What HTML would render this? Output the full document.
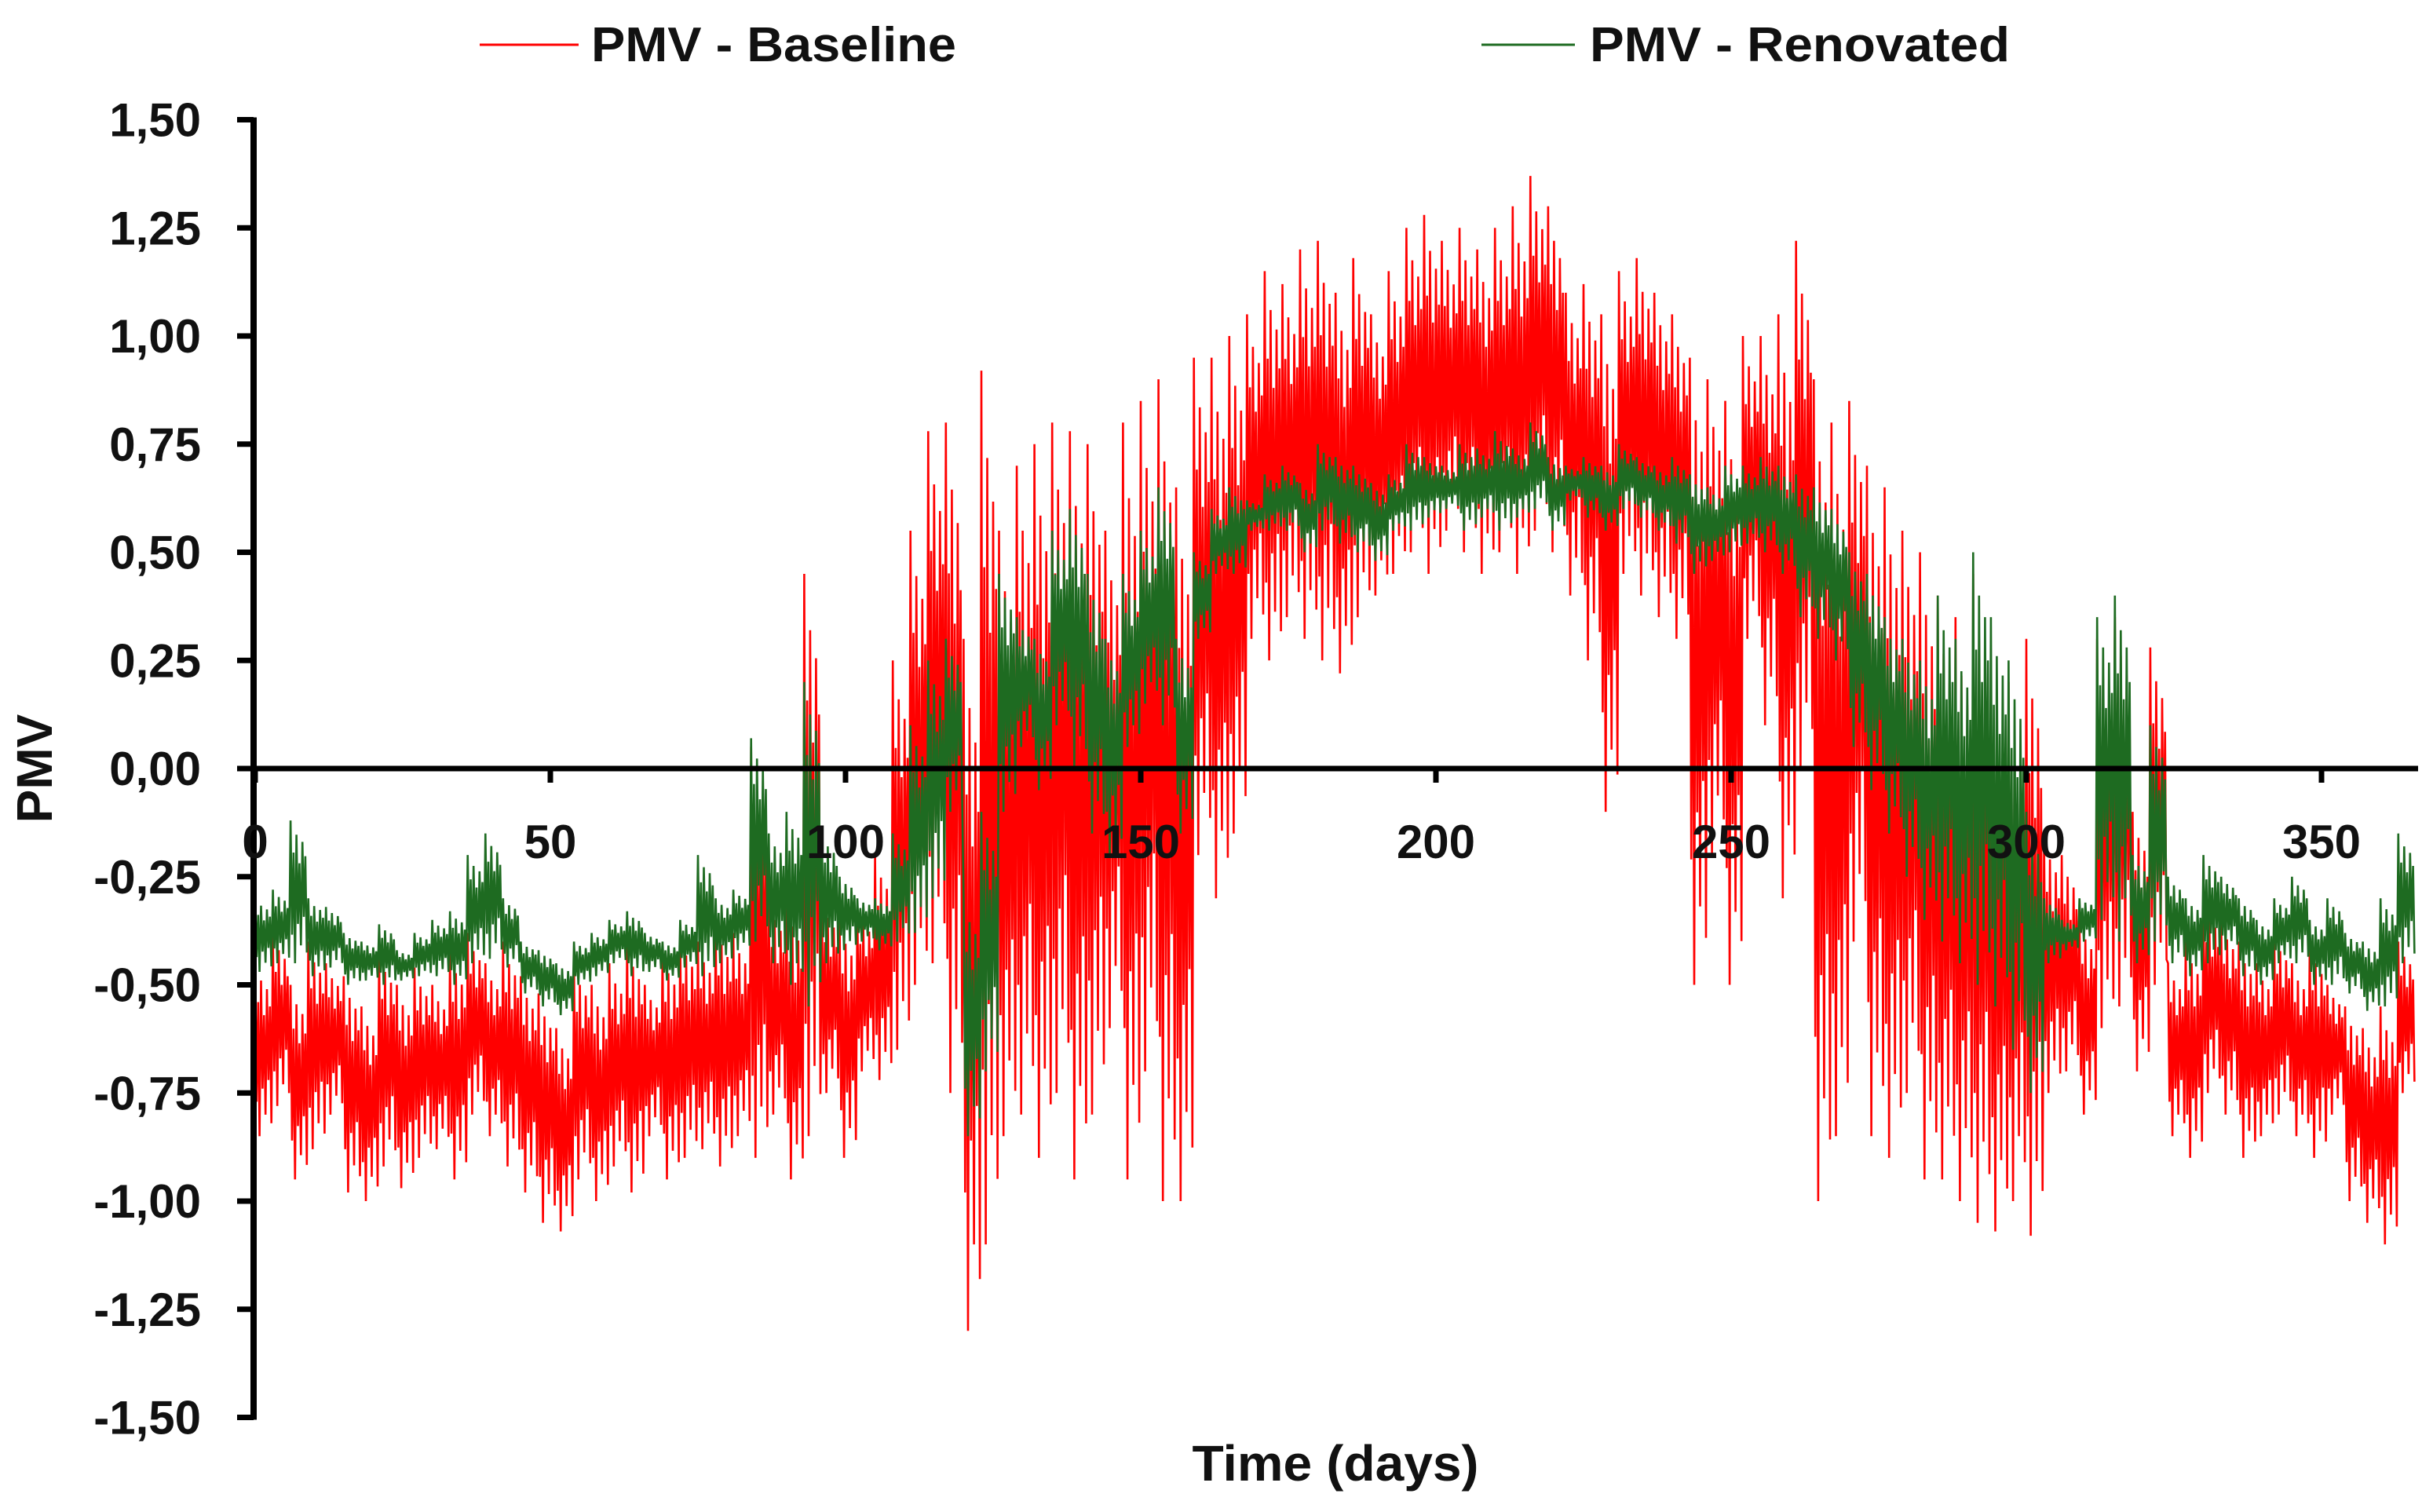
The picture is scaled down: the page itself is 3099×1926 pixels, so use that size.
<!DOCTYPE html>
<html><head><meta charset="utf-8"><style>
html,body{margin:0;padding:0;background:#fff;}
svg{display:block;font-family:"Liberation Sans",Arial,sans-serif;font-weight:bold;}
</style></head><body>
<svg id="chart" width="3099" height="1926" viewBox="0 0 3099 1926" xmlns="http://www.w3.org/2000/svg">
<g id="legend">
  <g>
    <line x1="611" y1="57" x2="737" y2="57" stroke="#ff0000" stroke-width="3"/>
    <text x="753" y="78" font-size="62" fill="#111" textLength="465" lengthAdjust="spacingAndGlyphs">PMV - Baseline</text>
  </g>
  <g>
    <line x1="1887" y1="57" x2="2006" y2="57" stroke="#1e6b21" stroke-width="3"/>
    <text x="2025" y="78" font-size="62" fill="#111" textLength="535" lengthAdjust="spacingAndGlyphs">PMV - Renovated</text>
  </g>
</g>
<g id="series"></g>
<g id="axes"></g>
<text transform="translate(66,979) rotate(-90)" text-anchor="middle" font-size="64" fill="#111">PMV</text>
<text x="1701" y="1886" text-anchor="middle" font-size="64" fill="#111" textLength="365" lengthAdjust="spacingAndGlyphs">Time (days)</text>
</svg>
<script>
const binDays = 3;
const yTicks = [1.5,1.25,1,0.75,0.5,0.25,0,-0.25,-0.5,-0.75,-1,-1.25,-1.5];
const yTickLabels = ["1,50","1,25","1,00","0,75","0,50","0,25","0,00","-0,25","-0,50","-0,75","-1,00","-1,25","-1,50"];
const xTicks = [0,50,100,150,200,250,300,350];
const redHi = [-0.45,-0.38,-0.50,-0.40,-0.45, -0.48,-0.55,-0.42,-0.50,-0.46, -0.50,-0.42,-0.38,-0.45,-0.40, -0.48,-0.52,-0.60,-0.45,-0.50, -0.45,-0.40,-0.50,-0.42,-0.38, -0.40,-0.35,-0.38,0.05,-0.30, -0.30,0.45,-0.30,-0.35,-0.32, -0.20,0.25,0.55,0.78,0.80, 0.30,0.92,0.55,0.70,0.75, 0.80,0.78,0.75,0.55,0.80, 0.85,0.90,0.65,0.95,0.95, 1.0,1.05,1.15,1.12,1.20, 1.22,1.10,1.18,1.05,1.15, 1.25,1.28,1.22,1.25,1.20, 1.25,1.30,1.37,1.30,1.10, 1.12,1.05,1.15,1.18,1.10, 1.05,0.95,0.90,0.85,1.00, 1.00,1.05,1.22,0.90,0.80, 0.85,0.70,0.65,0.55,0.50, 0.40,0.35,0.45,0.25,0.20, 0.30,-0.15,-0.20,-0.35,0.30, 0.35,-0.10,0.28,-0.45,-0.40, -0.30,-0.35,-0.40,-0.45,-0.38, -0.45,-0.40,-0.50,-0.55,-0.60, -0.55,-0.40];
const redLo = [-0.85,-0.78,-0.95,-0.88,-0.80, -0.98,-1.0,-0.92,-0.97,-0.90, -0.88,-0.95,-0.80,-0.85,-0.92, -0.98,-1.05,-1.07,-0.95,-1.0, -0.92,-0.98,-0.85,-0.95,-0.90, -0.88,-0.92,-0.85,-0.90,-0.80, -0.95,-0.85,-0.75,-0.90,-0.70, -0.72,-0.65,-0.50,-0.45,-0.75, -1.30,-1.10,-0.85,-0.80,-0.90, -0.75,-0.95,-0.80,-0.60,-0.95, -0.70,-1.0,-1.0,-0.20,-0.30, -0.15,0.30,0.25,0.35,0.30, 0.25,0.22,0.35,0.40,0.45, 0.50,0.45,0.55,0.50,0.45, 0.50,0.45,0.55,0.50,0.40, 0.25,-0.10,0.45,0.40,0.35, 0.30,-0.50,-0.20,-0.50,0.30, 0.10,-0.30,0.00,-1.00,-0.85, -0.40,-0.85,-0.90,-0.75,-0.95, -0.95,-1.0,-1.05,-1.07,-1.0, -1.08,-0.75,-0.70,-0.80,-0.60, -0.55,-0.70,-0.50,-0.85,-0.90, -0.75,-0.80,-0.90,-0.85,-0.80, -0.85,-0.90,-0.80,-1.0,-1.05, -1.10,-0.75];
const greenHi = [-0.30,-0.28,-0.12,-0.30,-0.32, -0.38,-0.40,-0.36,-0.42,-0.38, -0.35,-0.33,-0.20,-0.15,-0.30, -0.40,-0.42,-0.45,-0.40,-0.38, -0.35,-0.33,-0.38,-0.40,-0.35, -0.20,-0.30,-0.28,0.07,-0.15, -0.10,0.20,-0.15,-0.25,-0.30, -0.30,-0.15,0.10,0.25,0.30, -0.30,-0.10,0.45,0.35,0.30, 0.55,0.60,0.45,0.30,0.45, 0.55,0.65,0.30,0.50,0.60, 0.65,0.62,0.68,0.70,0.66, 0.75,0.72,0.70,0.66,0.68, 0.75,0.72,0.70,0.75,0.74, 0.78,0.74,0.80,0.72,0.70, 0.72,0.70,0.75,0.72,0.70, 0.72,0.68,0.65,0.70,0.70, 0.72,0.70,0.68,0.65,0.60, 0.50,0.45,0.35,0.30,0.25, 0.40,0.30,0.50,0.35,0.25, -0.10,-0.30,-0.35,-0.30,0.35, 0.40,-0.20,0.10,-0.25,-0.30, -0.20,-0.25,-0.30,-0.35,-0.30, -0.25,-0.35,-0.30,-0.38,-0.40, -0.30,-0.15];
const greenLo = [-0.47,-0.45,-0.45,-0.48,-0.46, -0.50,-0.49,-0.50,-0.49,-0.48, -0.48,-0.50,-0.45,-0.44,-0.46, -0.52,-0.55,-0.57,-0.50,-0.48, -0.45,-0.48,-0.47,-0.49,-0.46, -0.48,-0.45,-0.42,-0.40,-0.45, -0.50,-0.55,-0.45,-0.42,-0.40, -0.42,-0.40,-0.38,-0.30,-0.10, -0.85,-0.70,-0.10,0.05,-0.05, 0.10,0.00,-0.15,-0.20,0.05, 0.15,0.10,-0.15,0.30,0.45, 0.45,0.55,0.55,0.55,0.50, 0.55,0.52,0.50,0.48,0.55, 0.55,0.58,0.60,0.55,0.58, 0.55,0.58,0.60,0.55,0.62, 0.58,0.55,0.60,0.58,0.55, 0.52,0.45,0.48,0.50,0.52, 0.50,0.45,0.35,0.30,0.25, 0.05,-0.05,-0.15,-0.25,-0.35, -0.40,-0.45,-0.50,-0.55,-0.65, -0.75,-0.45,-0.42,-0.40,-0.35, -0.40,-0.45,-0.40,-0.45,-0.48, -0.45,-0.42,-0.48,-0.50,-0.45, -0.45,-0.50,-0.50,-0.52,-0.56, -0.55,-0.45];

const X0 = 325, PXD = 7.52, Y0 = 979, PXU = 551;
function xs(d){ return X0 + d*PXD; }
function ys(v){ return Y0 - v*PXU; }
const NS = "http://www.w3.org/2000/svg";
const series = document.getElementById('series');
const axes = document.getElementById('axes');

// drawing style: how far each zig reaches toward the bin's read hi / lo
const reachHi = [1, 0.55, 0.8, 0.4, 0.7, 0.5];
const reachLo = [0.6, 1, 0.45, 0.75, 0.35, 0.85];

function drawSeries(hi, lo, color, width, name){
  const pts = [];
  const n = reachHi.length;
  for (let i=0;i<hi.length;i++){
    const d0 = i*binDays;
    const mid = (hi[i]+lo[i])/2, half = (hi[i]-lo[i])/2;
    for (let k=0;k<n;k++){
      const dd = d0 + k*binDays/n;
      pts.push(xs(dd).toFixed(1) + ',' + ys(mid + half*reachHi[k]).toFixed(1));
      pts.push(xs(dd + binDays/(2*n)).toFixed(1) + ',' + ys(mid - half*reachLo[k]).toFixed(1));
    }
  }
  const pl = document.createElementNS(NS,'polyline');
  pl.setAttribute('points', pts.join(' '));
  pl.setAttribute('fill','none');
  pl.setAttribute('stroke', color);
  pl.setAttribute('stroke-width', width);
  pl.setAttribute('stroke-linejoin','miter');
  
  
  series.appendChild(pl);
}
drawSeries(redHi, redLo, '#ff0000', 2.6, 'baseline-line');
drawSeries(greenHi, greenLo, '#1e6b21', 2.6, 'renovated-line');

const ya = document.createElementNS(NS,'line');
ya.setAttribute('x1',323); ya.setAttribute('x2',323);
ya.setAttribute('y1',ys(1.5)-3); ya.setAttribute('y2',ys(-1.5)+3);
ya.setAttribute('stroke','#000'); ya.setAttribute('stroke-width',8);


axes.appendChild(ya);
yTicks.forEach((v,i)=>{
  const t = document.createElementNS(NS,'line');
  t.setAttribute('x1',302); t.setAttribute('x2',323);
  t.setAttribute('y1',ys(v)); t.setAttribute('y2',ys(v));
  t.setAttribute('stroke','#000'); t.setAttribute('stroke-width',7);
  
  
  axes.appendChild(t);
  const tx = document.createElementNS(NS,'text');
  tx.setAttribute('x',256); tx.setAttribute('y',ys(v)+21);
  tx.setAttribute('text-anchor','end'); tx.setAttribute('font-size',60); tx.setAttribute('fill','#111');
  tx.textContent = yTickLabels[i];
  
  
  axes.appendChild(tx);
});
const xa = document.createElementNS(NS,'line');
xa.setAttribute('x1',319); xa.setAttribute('x2',3080);
xa.setAttribute('y1',Y0); xa.setAttribute('y2',Y0);
xa.setAttribute('stroke','#000'); xa.setAttribute('stroke-width',7);


axes.appendChild(xa);
xTicks.forEach(d=>{
  const t = document.createElementNS(NS,'line');
  t.setAttribute('x1',xs(d)); t.setAttribute('x2',xs(d));
  t.setAttribute('y1',Y0); t.setAttribute('y2',Y0+18);
  t.setAttribute('stroke','#000'); t.setAttribute('stroke-width',7);
  
  
  axes.appendChild(t);
  const tx = document.createElementNS(NS,'text');
  tx.setAttribute('x',xs(d)); tx.setAttribute('y',1093);
  tx.setAttribute('text-anchor','middle'); tx.setAttribute('font-size',60); tx.setAttribute('fill','#111');
  tx.textContent = String(d);
  
  
  axes.appendChild(tx);
});
</script>
</body></html>
